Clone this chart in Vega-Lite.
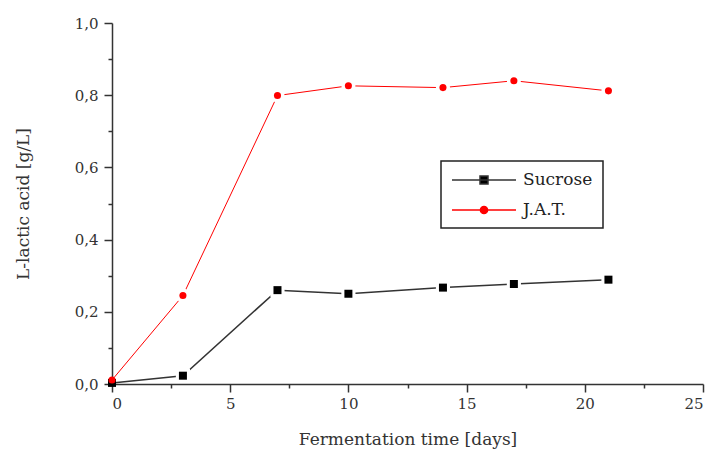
{
  "$schema": "https://vega.github.io/schema/vega-lite/v6.json",
  "width": 591,
  "height": 361,
  "autosize": {"type": "none"},
  "padding": {"left": 112, "top": 23, "right": 10, "bottom": 72},
  "background": "white",
  "config": {
    "view": {"stroke": null},
    "font": "DejaVu Serif",
    "axis": {
      "domainColor": "#333",
      "domainWidth": 1.5,
      "tickColor": "#333",
      "tickWidth": 1.5,
      "grid": false,
      "labelFont": "DejaVu Serif",
      "labelFontSize": 15,
      "labelColor": "#333",
      "labelFontWeight": "normal",
      "titleFont": "DejaVu Serif",
      "titleFontSize": 17,
      "titleFontWeight": "normal",
      "titleColor": "#333"
    },
    "legend": {"labelFont": "DejaVu Serif", "labelFontSize": 17}
  },
  "data": {
    "values": [
      {"day": 0, "value": 0.003, "series": "Sucrose"},
      {"day": 3, "value": 0.023, "series": "Sucrose"},
      {"day": 7, "value": 0.26, "series": "Sucrose"},
      {"day": 10, "value": 0.25, "series": "Sucrose"},
      {"day": 14, "value": 0.267, "series": "Sucrose"},
      {"day": 17, "value": 0.277, "series": "Sucrose"},
      {"day": 21, "value": 0.289, "series": "Sucrose"},
      {"day": 0, "value": 0.011, "series": "J.A.T."},
      {"day": 3, "value": 0.245, "series": "J.A.T."},
      {"day": 7, "value": 0.799, "series": "J.A.T."},
      {"day": 10, "value": 0.826, "series": "J.A.T."},
      {"day": 14, "value": 0.821, "series": "J.A.T."},
      {"day": 17, "value": 0.84, "series": "J.A.T."},
      {"day": 21, "value": 0.812, "series": "J.A.T."}
    ]
  },
  "resolve": {"axis": {"x": "independent", "y": "independent"}},
  "layer": [
    {
      "mark": {"type": "line", "clip": false},
      "encoding": {
        "x": {
          "field": "day", "type": "quantitative",
          "scale": {"domain": [0, 25], "nice": false, "zero": false},
          "axis": {"orient": "bottom", "values": [0, 5, 10, 15, 20, 25], "tickSize": 8, "labelPadding": 4, "title": "Fermentation time [days]", "titlePadding": 20}
        },
        "y": {
          "field": "value", "type": "quantitative",
          "scale": {"domain": [0, 1], "nice": false},
          "axis": {"orient": "left", "values": [0, 0.2, 0.4, 0.6, 0.8, 1.0], "tickSize": 8, "labelPadding": 6,
                   "labelExpr": "replace(format(datum.value, '.1f'), '.', ',')",
                   "title": "L-lactic acid [g/L]", "titlePadding": 42}
        },
        "color": {
          "field": "series", "type": "nominal",
          "scale": {"domain": ["Sucrose", "J.A.T."], "range": ["#333333", "#ff0000"]},
          "legend": {
            "orient": "none", "legendX": 329, "legendY": 138,
            "title": null,
            "strokeColor": "#222",
            "padding": 10,
            "symbolSize": 256,
            "symbolStrokeWidth": 1.5,
            "labelFont": "DejaVu Serif", "labelFontSize": 17, "labelColor": "#222",
            "labelOffset": 54,
            "rowPadding": 13,
            "encode": {
              "legend": {"update": {"strokeWidth": {"value": 1.5}}},
              "labels": {"update": {"font": {"value": "DejaVu Serif"}}},
              "symbols": {
                "update": {
                  "shape": {"signal": "datum.value === 'Sucrose' ? 'M-1,0H7M2.5,-0.5H3.5V0.5H2.5Z' : 'M-1,0H7M2.55,0A0.45,0.45 0 1,0 3.45,0A0.45,0.45 0 1,0 2.55,0Z'"},
                  "fill": {"signal": "datum.value === 'Sucrose' ? '#000000' : '#ff0000'"},
                  "stroke": {"signal": "datum.value === 'Sucrose' ? '#222222' : '#ff0000'"}
                }
              }
            }
          }
        },
        "strokeWidth": {
          "condition": {"test": "datum.series === 'Sucrose'", "value": 1.5},
          "value": 1
        }
      }
    },
    {
      "transform": [{"filter": "datum.day > 0"}],
      "mark": {"type": "point", "filled": true, "opacity": 1, "clip": false, "color": "white", "size": 200},
      "encoding": {
        "x": {"field": "day", "type": "quantitative", "axis": null},
        "y": {"field": "value", "type": "quantitative", "axis": null},
        "shape": {"condition": {"test": "datum.series === 'Sucrose'", "value": "square"}, "value": "circle"}
      }
    },
    {
      "mark": {"type": "point", "filled": true, "opacity": 1, "clip": false},
      "encoding": {
        "x": {
          "field": "day", "type": "quantitative",
          "axis": {"orient": "bottom", "values": [2.5, 7.5, 12.5, 17.5, 22.5], "tickSize": 4, "labels": false, "domain": false, "title": null}
        },
        "y": {
          "field": "value", "type": "quantitative",
          "axis": {"orient": "left", "values": [0.1, 0.3, 0.5, 0.7, 0.9], "tickSize": 4, "labels": false, "domain": false, "title": null}
        },
        "color": {"condition": {"test": "datum.series === 'Sucrose'", "value": "#000000"}, "value": "#ff0000"},
        "shape": {"condition": {"test": "datum.series === 'Sucrose'", "value": "square"}, "value": "circle"},
        "size": {"condition": {"test": "datum.series === 'Sucrose'", "value": 64}, "value": 50}
      }
    }
  ]
}
